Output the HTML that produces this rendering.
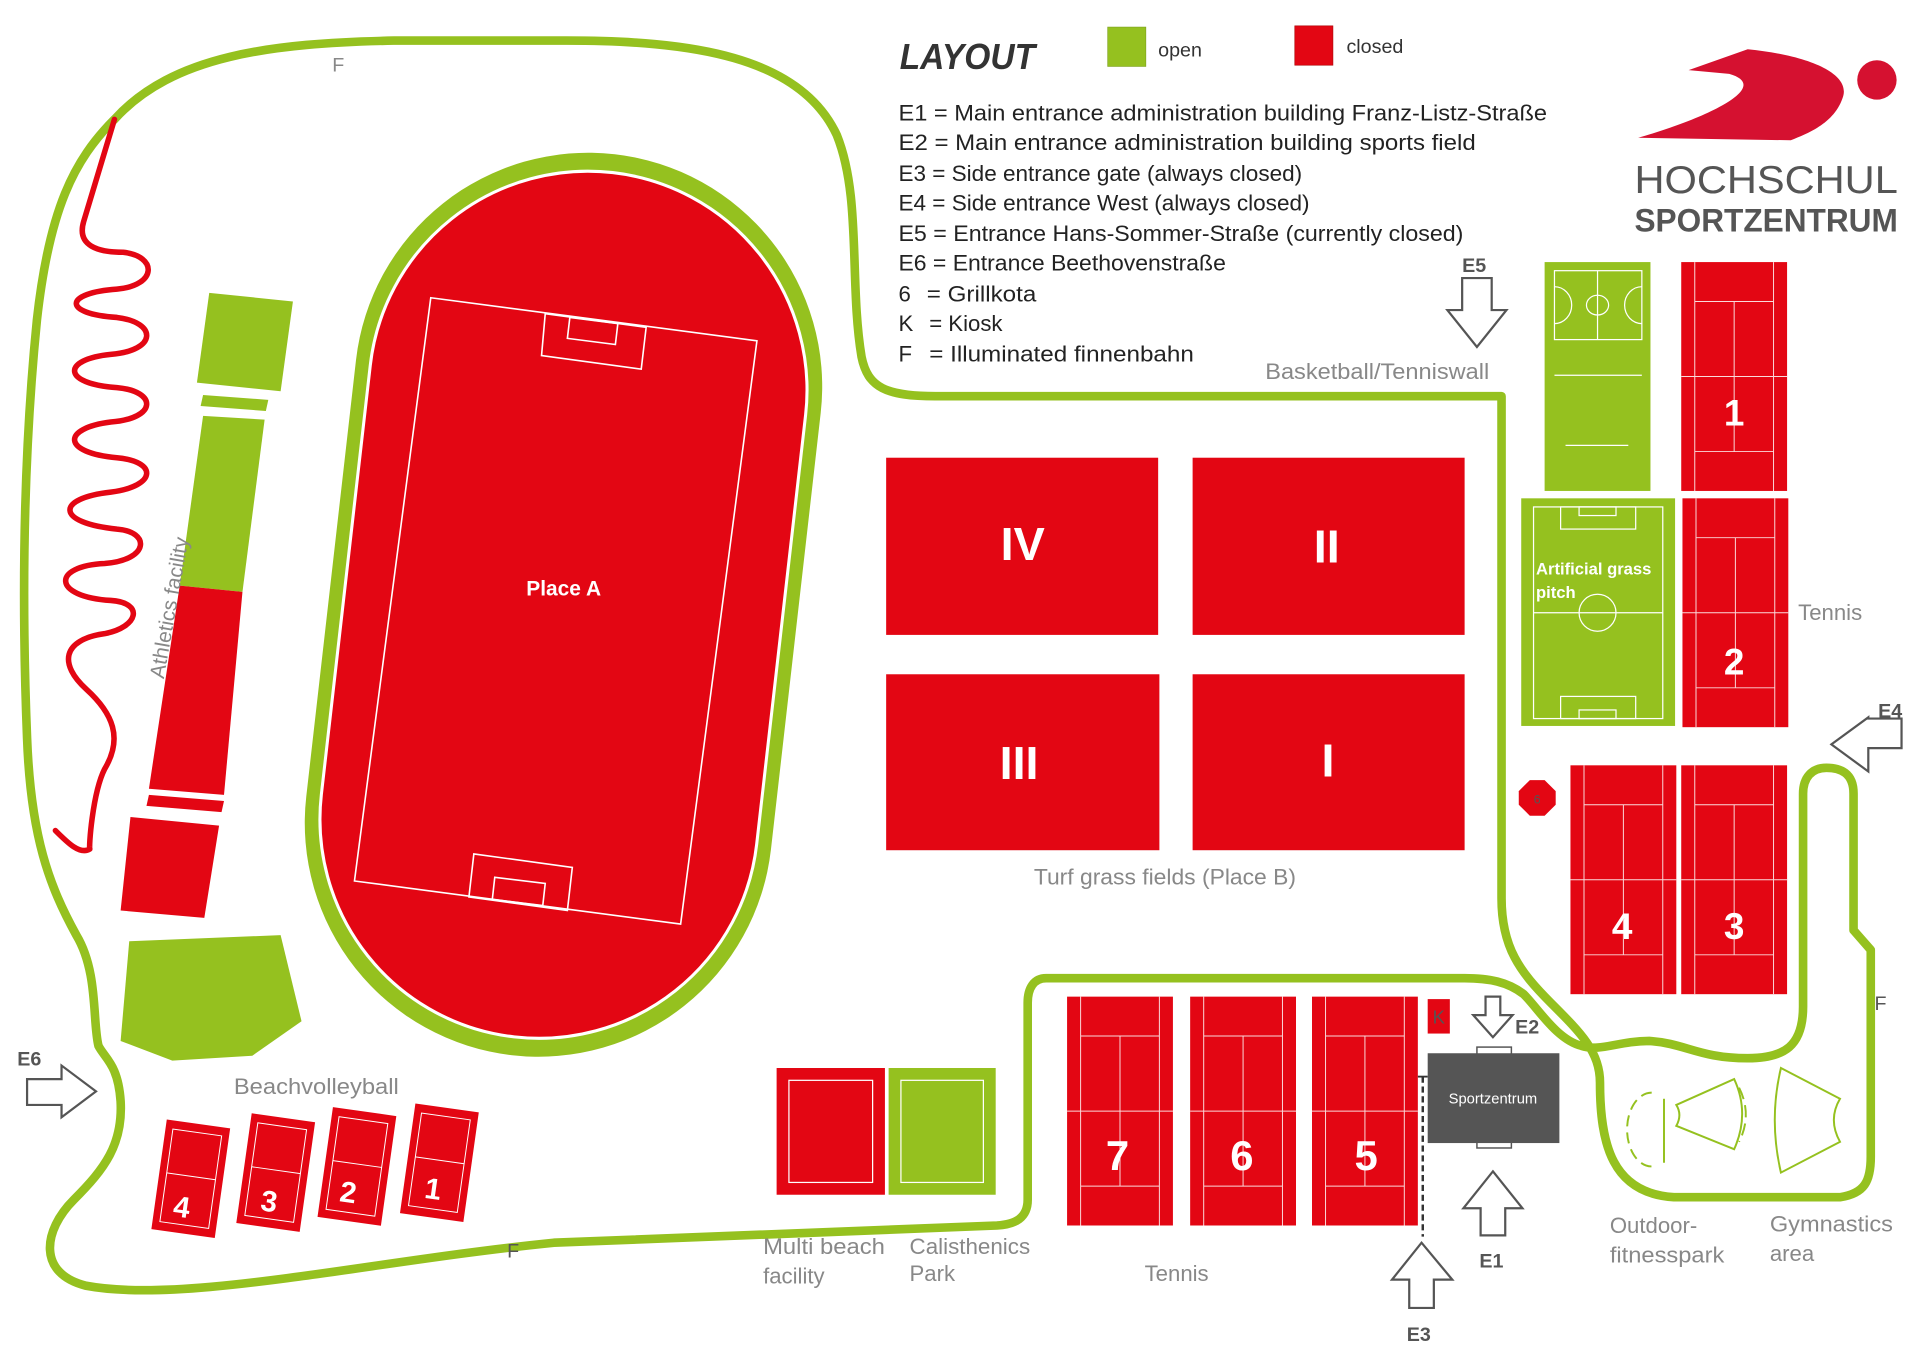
<!DOCTYPE html>
<html><head><meta charset="utf-8"><style>
html,body{margin:0;padding:0;background:#fff;width:1920px;height:1367px;overflow:hidden}
svg{display:block}
text{font-family:"Liberation Sans",sans-serif}
</style></head><body>
<svg width="1920" height="1367" viewBox="0 0 1560 1111" preserveAspectRatio="none" xmlns="http://www.w3.org/2000/svg">
<defs>
<g id="tc">
 <rect x="0" y="0" width="86" height="186" fill="#e30613"/>
 <g stroke="#fff" stroke-width="0.8" fill="none" opacity="0.85">
  <line x1="11" y1="0" x2="11" y2="186"/><line x1="75" y1="0" x2="75" y2="186"/>
  <line x1="11" y1="32" x2="75" y2="32"/><line x1="11" y1="154" x2="75" y2="154"/>
  <line x1="0" y1="93" x2="86" y2="93"/><line x1="43" y1="32" x2="43" y2="154"/>
 </g>
</g>
<g id="bc">
 <rect x="-26" y="-45" width="52" height="90" fill="#e30613"/>
 <rect x="-20" y="-38" width="40" height="76" fill="none" stroke="#fff" stroke-width="0.8"/>
 <line x1="-20" y1="-2" x2="20" y2="-2" stroke="#fff" stroke-width="0.8"/>
</g>
</defs>

<!-- finnenbahn -->
<g fill="none" stroke="#95c11f" stroke-width="7" stroke-linejoin="round" stroke-linecap="round">
<path d="M93,97 C140,45 220,35 320,33 L460,33 C560,33 650,45 680,110 C700,160 690,230 700,290 C705,315 720,322 760,322 L1220,322 L1220,730 C1220,770 1235,790 1260,815 C1285,840 1300,855 1300,880 C1300,930 1310,970 1360,973 L1495,973 C1515,970 1520,960 1520,940 L1520,772 L1506,756 L1506,645 C1506,628 1495,624 1484,624 C1472,624 1465,632 1465,645 L1465,818 C1465,850 1450,860 1420,860 C1380,860 1370,848 1340,846 C1315,846 1300,855 1285,850 C1265,845 1250,820 1238,808 C1225,798 1210,795 1190,795 L850,795 C840,795 835,803 835,815 L835,975 C835,990 825,995 810,996 L450,1010 C300,1025 150,1060 70,1045 C30,1035 35,1000 60,975 C85,950 100,930 98,895 C96,865 85,860 80,850 C75,830 80,790 62,760 C40,720 25,680 22,600 C18,500 18,380 30,260 C40,170 60,130 93,97 Z"/>
</g>
<!-- red wiggle -->
<path d="M93,97 L68,180 C62,200 80,205 100,205 C128,208 128,232 95,235 C52,238 50,255 95,258 C128,262 128,285 90,288 C50,292 50,312 95,315 C128,318 128,340 90,343 C50,348 50,368 95,372 C128,375 128,395 90,400 C45,405 45,425 95,430 C122,432 122,455 85,458 C42,460 42,485 90,488 C118,490 112,510 85,515 C50,520 48,540 70,560 C92,580 100,600 85,625 C75,645 72,690 73,690 C65,695 55,685 45,675" fill="none" stroke="#e30613" stroke-width="4.5" stroke-linecap="round" stroke-linejoin="round"/>

<!-- athletics -->
<polygon points="170,238 238,245 228,318 160,311" fill="#95c11f"/>
<polygon points="165,321 218,325 216,334 163,330" fill="#95c11f"/>
<polygon points="165,338 215,341 197,481 146,476" fill="#95c11f"/>
<polygon points="146,476 197,481 182,646 121,641" fill="#e30613"/>
<polygon points="121,646 182,651 180,660 119,655" fill="#e30613"/>
<polygon points="106,664 178,671 166,746 98,740" fill="#e30613"/>
<polygon points="105,765 228,760 245,830 205,858 140,862 98,846" fill="#95c11f"/>
<text x="0" y="0" transform="translate(133,552) rotate(-80)" font-size="17" fill="#888">Athletics facility</text>

<!-- track -->
<g transform="rotate(6.5 458 490)">
 <rect x="268" y="123" width="380" height="737" rx="190" ry="190" fill="#95c11f"/>
 <rect x="280" y="138" width="356" height="707" rx="178" ry="178" fill="#e30613" stroke="#fff" stroke-width="2.5"/>
</g>
<g fill="none" stroke="#fff" stroke-width="1.3">
 <polygon points="350,242 615,277 553,751 288,716"/>
 <polygon points="443,255 525,266 521,300 440,289"/>
 <polygon points="463,258 502,263 500,280 461,275"/>
 <polygon points="385,694 465,705 461,740 381,729"/>
 <polygon points="402,713 443,718 441,736 400,731"/>
</g>
<text x="458" y="484" font-size="17" font-weight="bold" fill="#fff" text-anchor="middle">Place A</text>

<!-- turf fields -->
<rect x="720" y="372" width="221" height="144" fill="#e30613"/>
<rect x="969" y="372" width="221" height="144" fill="#e30613"/>
<rect x="720" y="548" width="222" height="143" fill="#e30613"/>
<rect x="969" y="548" width="221" height="143" fill="#e30613"/>
<g font-size="38" font-weight="bold" fill="#fff" text-anchor="middle">
<text x="831" y="455">IV</text><text x="1078" y="457">II</text>
<text x="828" y="633">III</text><text x="1079" y="631">I</text>
</g>

<!-- right courts -->
<rect x="1255" y="213" width="86" height="186" fill="#95c11f"/>
<g fill="none" stroke="#fff" stroke-width="1">
 <rect x="1263" y="220" width="71" height="56"/><line x1="1298" y1="220" x2="1298" y2="276"/>
 <ellipse cx="1298" cy="257" rx="9" ry="8" transform="translate(0,-9)"/>
 <path d="M1263,233 a14,15 0 0 1 0,30"/><path d="M1334,233 a14,15 0 0 0 0,30"/>
 <line x1="1263" y1="305" x2="1334" y2="305"/><line x1="1272" y1="362" x2="1323" y2="362"/>
</g>
<rect x="1236" y="405" width="125" height="185" fill="#95c11f"/>
<g fill="none" stroke="#fff" stroke-width="1">
 <rect x="1246" y="412" width="105" height="172"/>
 <rect x="1268" y="412" width="61" height="18"/><rect x="1283" y="412" width="30" height="7"/>
 <rect x="1268" y="566" width="61" height="18"/><rect x="1283" y="577" width="30" height="7"/>
 <line x1="1246" y1="498" x2="1351" y2="498"/><circle cx="1298" cy="498" r="15"/>
</g>
<text x="1248" y="467" font-size="13.5" font-weight="bold" fill="#fff">Artificial grass</text>
<text x="1248" y="486" font-size="13.5" font-weight="bold" fill="#fff">pitch</text>
<use href="#tc" x="1366" y="213"/><use href="#tc" x="1367" y="405"/>
<use href="#tc" x="1276" y="622"/><use href="#tc" x="1366" y="622"/>
<g font-size="30" font-weight="bold" fill="#fff" text-anchor="middle">
<text x="1409" y="346">1</text><text x="1409" y="548">2</text>
<text x="1318" y="763">4</text><text x="1409" y="763">3</text>
</g>
<polygon points="1243,634 1255,634 1264,643 1264,654 1255,663 1243,663 1234,654 1234,643" fill="#e30613"/>
<text x="1249" y="653" font-size="10" fill="#555" text-anchor="middle">6</text>

<!-- bottom tennis -->
<use href="#tc" x="867" y="810"/><use href="#tc" x="967" y="810"/><use href="#tc" x="1066" y="810"/>
<g font-size="34" font-weight="bold" fill="#fff" text-anchor="middle">
<text x="908" y="951">7</text><text x="1009" y="951">6</text><text x="1110" y="951">5</text>
</g>
<rect x="1160" y="812" width="18" height="28" fill="#e30613"/>
<text x="1169" y="832" font-size="15" fill="#555" text-anchor="middle">K</text>
<line x1="1156" y1="875" x2="1156" y2="1005" stroke="#333" stroke-width="2" stroke-dasharray="5,3"/>
<line x1="1152" y1="875" x2="1160" y2="875" stroke="#333" stroke-width="1.5"/>
<rect x="1200" y="851" width="28" height="7" fill="#fff" stroke="#555" stroke-width="1.2"/>
<rect x="1200" y="926" width="28" height="7" fill="#fff" stroke="#555" stroke-width="1.2"/>
<rect x="1160" y="856" width="107" height="73" fill="#555"/>
<text x="1213" y="897" font-size="12" fill="#fff" text-anchor="middle">Sportzentrum</text>

<!-- beach -->
<rect x="631" y="868" width="88" height="103" fill="#e30613"/>
<rect x="641" y="878" width="68" height="83" fill="none" stroke="#fff" stroke-width="1"/>
<rect x="722" y="868" width="87" height="103" fill="#95c11f"/>
<rect x="732" y="878" width="67" height="83" fill="none" stroke="#fff" stroke-width="1"/>
<g font-size="24" font-weight="bold" fill="#fff" text-anchor="middle">
<g transform="translate(155,958) rotate(8)"><use href="#bc"/><text x="-4" y="32">4</text></g>
<g transform="translate(224,953) rotate(8)"><use href="#bc"/><text x="-2" y="32">3</text></g>
<g transform="translate(290,948) rotate(8)"><use href="#bc"/><text x="-4" y="30">2</text></g>
<g transform="translate(357,945) rotate(8)"><use href="#bc"/><text x="-2" y="30">1</text></g>
</g>

<!-- fitness shapes -->
<g fill="none" stroke="#95c11f" stroke-width="1.6">
 <path d="M1342,888 A20,30 0 0 0 1342,948" stroke-dasharray="9,5"/>
 <line x1="1352" y1="893" x2="1352" y2="945"/>
 <path d="M1362,898 L1409,877 Q1422,905 1409,934 L1362,915 Q1367,906 1362,898 Z"/>
 <path d="M1413,884 Q1424,906 1413,928" stroke-dasharray="10,5"/>
 <path d="M1447,868 L1495,893 Q1485,910 1495,928 L1447,953 Q1437,910 1447,868 Z"/>
</g>

<!-- arrows -->
<g fill="#fff" stroke="#555" stroke-width="1.8" stroke-linejoin="miter">
 <polygon points="1188,226 1212,226 1212,252 1224,252 1200,282 1176,252 1188,252"/>
 <polygon points="1545,584 1545,608 1518,608 1518,627 1488,605 1518,583 1518,584" />
 <polygon points="1207,810 1219,810 1219,825 1229,825 1213,843 1197,825 1207,825"/>
 <polygon points="1213,952 1237,982 1223,982 1223,1004 1203,1004 1203,982 1189,982"/>
 <polygon points="1155,1010 1180,1040 1165,1040 1165,1063 1145,1063 1145,1040 1131,1040"/>
 <polygon points="22,877 50,877 50,866 78,887 50,908 50,898 22,898"/>
</g>
<g font-size="16" font-weight="bold" fill="#555">
 <text x="1188" y="221">E5</text><text x="1526" y="583">E4</text><text x="1231" y="840">E2</text>
 <text x="1202" y="1030">E1</text><text x="1143" y="1090">E3</text><text x="14" y="866">E6</text>
</g>

<!-- labels -->
<g font-size="18" fill="#888">
 <text x="1028" y="308" textLength="182" lengthAdjust="spacingAndGlyphs">Basketball/Tenniswall</text>
 <text x="1461" y="504">Tennis</text>
 <text x="840" y="719" textLength="213" lengthAdjust="spacingAndGlyphs">Turf grass fields (Place B)</text>
 <text x="190" y="889" textLength="134" lengthAdjust="spacingAndGlyphs">Beachvolleyball</text>
 <text x="620" y="1019" textLength="99" lengthAdjust="spacingAndGlyphs">Multi beach</text>
 <text x="620" y="1043">facility</text>
 <text x="739" y="1019" textLength="98" lengthAdjust="spacingAndGlyphs">Calisthenics</text>
 <text x="739" y="1041">Park</text>
 <text x="930" y="1041">Tennis</text>
 <text x="1308" y="1002">Outdoor-</text>
 <text x="1308" y="1026" textLength="93" lengthAdjust="spacingAndGlyphs">fitnesspark</text>
 <text x="1438" y="1001" textLength="100" lengthAdjust="spacingAndGlyphs">Gymnastics</text>
 <text x="1438" y="1025">area</text>
 <text x="270" y="58" font-size="16">F</text>
 <text x="412" y="1022" font-size="16" fill="#555">F</text>
 <text x="1523" y="821" font-size="16" fill="#555">F</text>
</g>

<!-- legend -->
<text x="731" y="56" font-size="29" font-style="italic" font-weight="bold" fill="#333" textLength="110" lengthAdjust="spacingAndGlyphs">LAYOUT</text>
<rect x="900" y="22" width="31" height="32" fill="#95c11f" stroke="#7a9e18" stroke-width="0.5"/>
<text x="941" y="46" font-size="16" fill="#333">open</text>
<rect x="1052" y="21" width="31" height="32" fill="#e30613" stroke="#a00" stroke-width="0.5"/>
<text x="1094" y="43" font-size="16" fill="#333">closed</text>
<g font-size="18" fill="#222">
 <text x="730" y="98" textLength="527" lengthAdjust="spacingAndGlyphs">E1 = Main entrance administration building Franz-Listz-Straße</text>
 <text x="730" y="122" textLength="469" lengthAdjust="spacingAndGlyphs">E2 = Main entrance administration building sports field</text>
 <text x="730" y="147" textLength="328" lengthAdjust="spacingAndGlyphs">E3 = Side entrance gate (always closed)</text>
 <text x="730" y="171" textLength="334" lengthAdjust="spacingAndGlyphs">E4 = Side entrance West (always closed)</text>
 <text x="730" y="196" textLength="459" lengthAdjust="spacingAndGlyphs">E5 = Entrance Hans-Sommer-Straße (currently closed)</text>
 <text x="730" y="220" textLength="266" lengthAdjust="spacingAndGlyphs">E6 = Entrance Beethovenstraße</text>
 <text x="730" y="245">6</text><text x="753" y="245" textLength="89" lengthAdjust="spacingAndGlyphs">= Grillkota</text>
 <text x="730" y="269">K</text><text x="755" y="269">= Kiosk</text>
 <text x="730" y="294">F</text><text x="755" y="294" textLength="215" lengthAdjust="spacingAndGlyphs">= Illuminated finnenbahn</text>
</g>

<!-- logo -->
<path d="M1331,112 C1390,95 1440,70 1405,60 L1372,57 L1420,40 C1470,45 1505,60 1497,80 C1490,100 1470,108 1455,114 Z" fill="#d51130"/>
<circle cx="1525" cy="65" r="16" fill="#d51130"/>
<text x="1328" y="157" font-size="32" fill="#555" textLength="214" lengthAdjust="spacingAndGlyphs">HOCHSCHUL</text>
<text x="1328" y="188" font-size="26" font-weight="bold" fill="#555" textLength="214" lengthAdjust="spacingAndGlyphs">SPORTZENTRUM</text>
</svg>
</body></html>
